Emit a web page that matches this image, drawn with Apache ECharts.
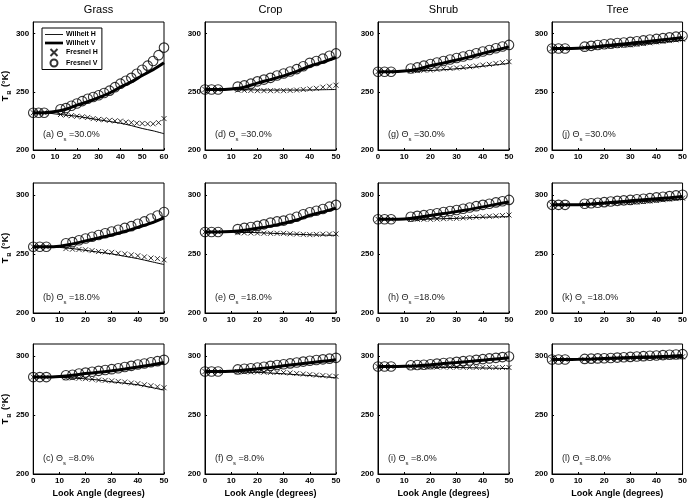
<!DOCTYPE html>
<html><head><meta charset="utf-8">
<script src="https://cdn.jsdelivr.net/npm/echarts@6/dist/echarts.min.js"></script>
<style>html,body{margin:0;padding:0;background:#fff}#c{width:690px;height:503px}</style>
</head><body><div id="c"></div>
<script>
// ---- data ----
const columnTitles = ['Grass', 'Crop', 'Shrub', 'Tree'];
const moistureLabels = ['30.0%', '18.0%', '8.0%'];
const panelLetters = ['a','b','c','d','e','f','g','h','i','j','k','l'];
const seriesNames = ['Wilheit H', 'Wilheit V', 'Fresnel H', 'Fresnel V'];
const yTickValues = [200, 250, 300];

const fresnelAngles50 = [0,2.5,5,12.5,15,17.5,20,22.5,25,27.5,30,32.5,35,37.5,40,42.5,45,47.5,50];
const fresnelAngles60 = [0,2.5,5,12.5,15,17.5,20,22.5,25,27.5,30,32.5,35,37.5,40,42.5,45,47.5,50,52.5,55,57.5,60];
const wilheitAngles50 = [0,5,10,15,20,25,30,35,40,45,50];
const wilheitAngles60 = [0,5,10,15,20,25,30,35,40,45,50,55,60];

// Grass
const a_WH = [232,232,231,230,229,227.5,226,224.5,223,221,218.5,216.5,214];
const a_WV = [232,232,233,235,238.5,241.5,245,249,254,258.5,264,269,275];
const a_FH = [232,232,232,230.5,230,229.5,229,228.5,228,227,226.3,226,225.5,225,224.8,224,223.5,223,222.8,222.5,222.5,223.5,227];
const a_FV = [232,232,232,235,236,238,240,242,244,245.5,247,249,251,254,257,259.5,262,265.5,269,272.5,276.5,281.5,288];
const b_WH = [256,256,255.5,254.5,253,251.5,250,248,246,243.5,241];
const b_WV = [256,256,256.5,258.5,261,263.5,266,269,272.5,276,280.5];
const b_FH = [256,256,256,254.5,254,253.8,253.5,252.8,252,251.7,251.3,250.5,250,249.2,248.5,247.5,246.5,246,245];
const b_FV = [256,256,256,259,260,261.5,263,264.5,266,267.5,269,270.5,272,273.5,275.5,277.5,280,282.5,285.5];
const c_WH = [282,282,281.8,281.3,280.5,279.5,278,276.8,275.5,273.3,271];
const c_WV = [282,282,282.5,283.5,285,286,287.3,288.8,290.5,292.3,294.3];
const c_FH = [282,282,282,281.5,281.3,281,280.7,280.2,279.5,279.2,278.8,278.3,277.8,277,276.5,275.5,274.7,273.8,273];
const c_FV = [282,282,282,283.5,284,285,285.8,286.5,287.3,288,288.7,289.5,290.5,291.5,292.6,293.5,294.5,295.5,296.6];
// Crop
const d_WH = [252,252,252,251.8,251.6,251.5,251.5,251.5,251.6,251.8,252];
const d_WV = [252,252,252.5,254,257.5,260.5,263.7,267.5,272,275.5,279.5];
const d_FH = [252,252,252,251.5,251.3,251.2,251,251,251,251,251,251.2,251.5,252,252.5,253,254,254.8,255.7];
const d_FV = [252,252,252,254.5,255.5,257,259,260.5,262,264,265.7,267.5,269.5,272,274.9,276.5,278.5,281,283];
const e_WH = [268.6,268.6,268.5,268.2,268,267.5,267,266.6,266.2,265.9,265.7];
const e_WV = [268.6,268.6,269,270,271.7,273.5,275.9,278.7,282.7,285.5,288.7];
const e_FH = [268.6,268.6,268.6,268,267.8,267.7,267.6,267.5,267.4,267.4,267.4,267,266.8,266.5,266.3,266.5,266.7,266.8,266.9];
const e_FV = [268.6,268.6,268.6,271,272,272.8,273.7,275,276.5,277.5,278.2,279.8,281.5,283.5,285.3,286.5,288,290,291.5];
const f_WH = [286.7,286.7,286.6,286.4,286,285.4,284.8,284,283.3,282.4,281.4];
const f_WV = [286.7,286.7,287,288,289,290.2,291.5,292.8,294.2,295.4,296.6];
const f_FH = [286.7,286.7,286.7,286.5,286.5,286.4,286.4,286.2,286,285.9,285.8,285.5,285,284.6,284.1,283.7,283.3,282.9,282.5];
const f_FV = [286.7,286.7,286.7,288.5,289,289.5,290.1,290.8,291.5,292.2,292.9,293.6,294.4,295.1,295.8,296.4,297,297.6,298.3];
// Shrub
const g_WH = [267.3,267.3,267.5,267.8,268.3,269,269.8,270.8,272,273.2,274.4];
const g_WV = [267.3,267.3,267.8,269.5,272.4,274.8,277.3,280,283,285.8,288.6];
const g_FH = [267.3,267.3,267.3,268,268.2,268.5,268.7,269.3,269.8,270.1,270.5,271,271.6,272.2,273,273.6,274.4,275.1,275.9];
const g_FV = [267.3,267.3,267.3,270,271,272.5,273.9,275.2,276.5,277.8,279,280.3,281.7,283.2,284.7,286,287.5,289,290.3];
const h_WH = [279.3,279.3,279.3,279.4,279.5,279.8,280.1,280.6,281,281.3,281.5];
const h_WV = [279.3,279.3,279.6,280.8,282.5,284.1,285.8,287.7,289.8,291.9,294];
const h_FH = [279.3,279.3,279.3,279.3,279.3,279.3,279.3,279.6,279.8,280,280.1,280.5,280.8,281.2,281.5,281.8,282.1,282.5,282.9];
const h_FV = [279.3,279.3,279.3,281.5,282.2,282.8,283.5,284.4,285.4,286.3,287.2,288.2,289.3,290.4,291.5,292.5,293.6,294.6,295.7];
const i_WH = [290.9,290.9,290.8,290.7,290.5,290.3,290.1,289.9,289.7,289.5,289.2];
const i_WV = [290.9,290.9,291.1,291.7,292.5,293.4,294.3,295.3,296.3,297.3,298.3];
const i_FH = [290.9,290.9,290.9,290.8,290.7,290.7,290.6,290.5,290.5,290.4,290.4,290.3,290.3,290.2,290.2,290.2,290.1,290.1,290.1];
const i_FV = [290.9,290.9,290.9,292,292.2,292.5,292.9,293.4,293.9,294.4,294.9,295.5,296,296.6,297.2,297.8,298.3,298.9,299.4];
// Tree
const j_WH = [287.2,287.2,287.4,287.9,288.6,289.4,290.3,291.2,292.2,293.2,294.3];
const j_WV = [287.2,287.2,287.5,288.3,289.5,290.6,291.7,292.9,294.1,295.3,296.6];
const j_FH = [287.2,287.2,287.2,287.8,288.1,288.5,288.9,289.4,289.8,290,290.3,290.9,291.5,292.1,292.8,293.4,294,294.6,295.2];
const j_FV = [287.2,287.2,287.2,288.8,289.5,290.2,290.9,291.4,291.9,292.4,292.9,293.5,294.2,294.9,295.5,296.1,296.8,297.4,298];
const k_WH = [291.5,291.5,291.6,292,292.5,293,293.6,294.3,295,295.6,296.3];
const k_WV = [291.5,291.5,291.7,292.3,293.1,294,294.9,295.8,296.7,297.6,298.6];
const k_FH = [291.5,291.5,291.5,291.9,292.1,292.4,292.7,293,293.2,293.4,293.5,293.9,294.3,294.8,295.3,295.8,296.3,296.8,297.2];
const k_FV = [291.5,291.5,291.5,292.5,292.9,293.3,293.8,294.4,294.9,295.3,295.7,296.2,296.7,297.2,297.8,298.4,298.9,299.5,300];
const l_WH = [296.9,296.9,296.9,297,297.2,297.4,297.6,297.8,298.1,298.3,298.6];
const l_WV = [296.9,296.9,297,297.3,297.7,298.1,298.5,298.9,299.3,299.7,300.2];
const l_FH = [296.9,296.9,296.9,297,297.1,297.2,297.3,297.5,297.7,297.9,298,298.2,298.4,298.6,298.7,298.9,299,299.1,299.2];
const l_FV = [296.9,296.9,296.9,297.4,297.6,297.8,298,298.2,298.5,298.8,299.1,299.4,299.7,300,300.3,300.6,300.9,301.1,301.4];

const panelData = [
  [a_WH,a_WV,a_FH,a_FV],[b_WH,b_WV,b_FH,b_FV],[c_WH,c_WV,c_FH,c_FV],
  [d_WH,d_WV,d_FH,d_FV],[e_WH,e_WV,e_FH,e_FV],[f_WH,f_WV,f_FH,f_FV],
  [g_WH,g_WV,g_FH,g_FV],[h_WH,h_WV,h_FH,h_FV],[i_WH,i_WV,i_FH,i_FV],
  [j_WH,j_WV,j_FH,j_FV],[k_WH,k_WV,k_FH,k_FV],[l_WH,l_WV,l_FH,l_FV]
];

// ---- layout / styling ----
const FONT = '"Liberation Sans", Arial, Helvetica, sans-serif';
const colLeft = [33, 205, 378, 552];
const rowTop = [22, 183, 344];
const GW = 131, GH = [128, 130, 130];
const xMark = 'path://M0,0L10,10M10,0L0,10';
const pairs = (xs, ys) => xs.map((x, i) => [x, ys[i]]);

const grids = [], xAxes = [], yAxes = [], series = [], graphics = [];
for (let p = 0; p < 12; p++) {
  const c = Math.floor(p / 3), r = p % 3;
  const wide = (p === 0);
  grids.push({left: colLeft[c], top: rowTop[r], width: GW, height: GH[r],
    show: true, borderColor: '#000', borderWidth: 1, backgroundColor: 'transparent'});
  xAxes.push({type: 'value', gridIndex: p, min: 0, max: wide ? 60 : 50, interval: 10,
    axisLine: {show: true, lineStyle: {color: '#000', width: 1}},
    axisTick: {show: true, inside: true, length: 2, lineStyle: {color: '#000'}},
    splitLine: {show: false},
    axisLabel: {color: '#000', fontSize: 8, fontWeight: 'bold', fontFamily: FONT, margin: 3},
    name: r === 2 ? 'Look Angle (degrees)' : '', nameLocation: 'middle', nameGap: 15,
    nameTextStyle: {color: '#000', fontSize: 9, fontWeight: 'bold', fontFamily: FONT}});
  yAxes.push({type: 'value', gridIndex: p, min: 200, max: 310, interval: 50,
    axisLine: {show: true, lineStyle: {color: '#000', width: 1}},
    axisTick: {show: true, inside: true, length: 2, lineStyle: {color: '#000'}, customValues: yTickValues},
    splitLine: {show: false},
    axisLabel: {color: '#000', fontSize: 8, fontWeight: 'bold', fontFamily: FONT, margin: 4,
      formatter: v => (yTickValues.indexOf(v) >= 0 ? String(v) : '')},
    name: c === 0 ? '{t|T}{b|B}{t| (°K)}' : '', nameLocation: 'middle', nameGap: 19,
    nameTextStyle: {color: '#000', fontFamily: FONT,
      rich: {t: {fontSize: 9, fontWeight: 'bold', color: '#000', fontFamily: FONT},
             b: {fontSize: 6, fontWeight: 'bold', color: '#000', fontFamily: FONT, padding: [7, 1, 0, 1]}}}});
  const [WH, WV, FH, FV] = panelData[p];
  const wA = wide ? wilheitAngles60 : wilheitAngles50;
  const fA = wide ? fresnelAngles60 : fresnelAngles50;
  series.push({type: 'line', name: 'Wilheit H', xAxisIndex: p, yAxisIndex: p, data: pairs(wA, WH),
    symbol: 'none', smooth: 0.3, lineStyle: {color: '#000', width: 1}, itemStyle: {color: '#000'}, z: 2});
  series.push({type: 'line', name: 'Wilheit V', xAxisIndex: p, yAxisIndex: p, data: pairs(wA, WV),
    symbol: 'none', smooth: 0.3, lineStyle: {color: '#000', width: 3}, itemStyle: {color: '#000'}, z: 2});
  series.push({type: 'scatter', name: 'Fresnel H', xAxisIndex: p, yAxisIndex: p, data: pairs(fA, FH),
    symbol: xMark, symbolSize: 5, itemStyle: {color: 'transparent', borderColor: '#000', borderWidth: 1}, z: 3});
  series.push({type: 'scatter', name: 'Fresnel V', xAxisIndex: p, yAxisIndex: p, data: pairs(fA, FV),
    symbol: 'circle', symbolSize: 9.5, itemStyle: {color: 'transparent', borderColor: '#000', borderWidth: 1.1}, z: 4});
  graphics.push({type: 'text', left: colLeft[c] + 10, top: rowTop[r] + GH[r] - 20, z: 10,
    style: {text: '{n|(' + panelLetters[p] + ') Θ}{s|s}{n| =' + moistureLabels[r] + '}',
      rich: {n: {fontSize: 9, fill: '#222', fontFamily: FONT},
             s: {fontSize: 6, fill: '#222', fontFamily: FONT, padding: [9, 0, 0, 0]}}}});
}
columnTitles.forEach((t, c) => {
  graphics.push({type: 'text', x: colLeft[c] + GW / 2, y: 10, z: 10,
    style: {text: t, fontSize: 11, fill: '#000', fontFamily: FONT, align: 'center', verticalAlign: 'middle'}});
});

const chart = echarts.init(document.getElementById('c'), null, {renderer: 'canvas'});
chart.setOption({
  animation: false,
  backgroundColor: '#fff',
  textStyle: {fontFamily: FONT},
  grid: grids, xAxis: xAxes, yAxis: yAxes, series: series, graphic: graphics,
  legend: {
    data: [
      {name: 'Wilheit H', icon: 'path://M0,0H20V1H0Z', itemStyle: {color: '#000', borderWidth: 0}},
      {name: 'Wilheit V', icon: 'path://M0,0H20V3H0Z', itemStyle: {color: '#000', borderWidth: 0}},
      {name: 'Fresnel H'},
      {name: 'Fresnel V'}
    ],
    orient: 'vertical', left: 42, top: 28, padding: [3, 4, 2, 3],
    itemGap: 1.5, itemWidth: 18, itemHeight: 7, borderColor: '#000', borderWidth: 1,
    backgroundColor: '#fff', selectedMode: false, z: 20,
    textStyle: {fontSize: 7, fontWeight: 'bold', color: '#000', fontFamily: FONT, padding: [0, 0, 0, -2]}}
});
</script></body></html>
